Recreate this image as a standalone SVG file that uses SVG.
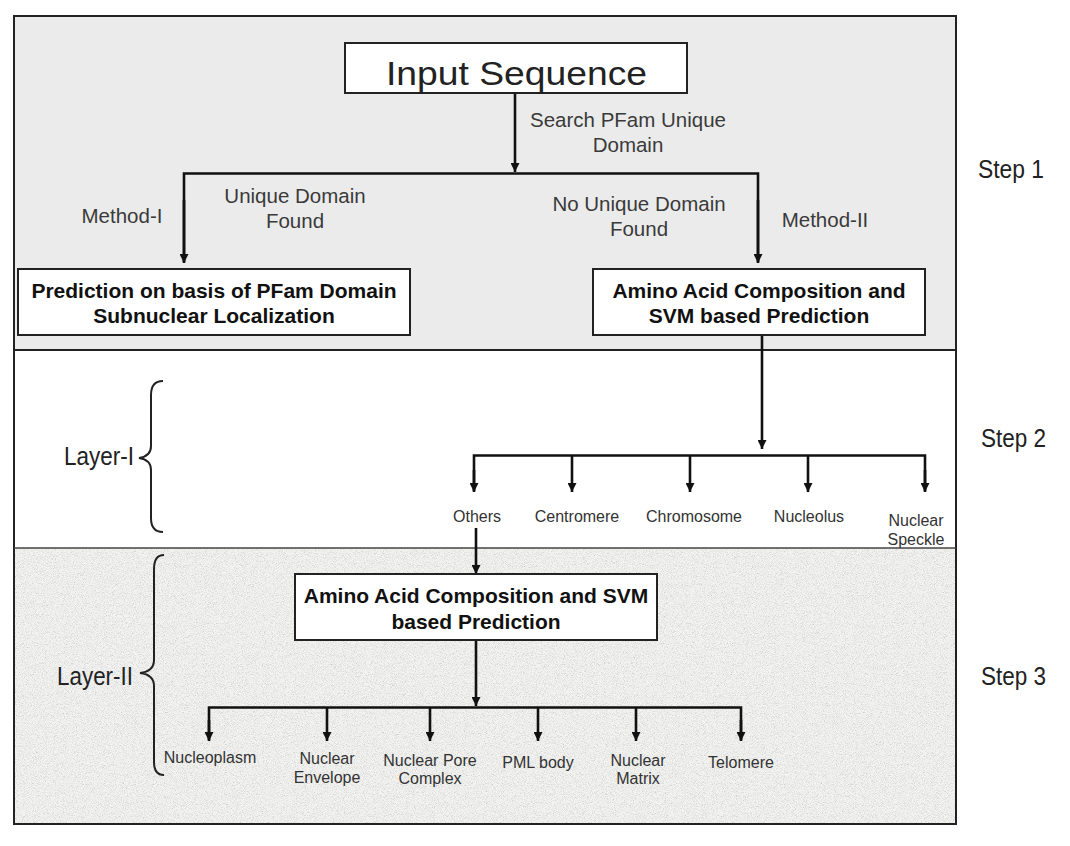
<svg xmlns="http://www.w3.org/2000/svg" width="1070" height="846" viewBox="0 0 1070 846">
<style>
.lbl{font-family:"Liberation Sans",Arial,sans-serif;font-size:20.5px;fill:#3a3a3a;text-anchor:middle}
.bold{font-family:"Liberation Sans",Arial,sans-serif;font-size:21px;font-weight:bold;fill:#111;text-anchor:middle}
.small{font-family:"Liberation Sans",Arial,sans-serif;font-size:16px;fill:#333;text-anchor:middle}
.step{font-family:"Liberation Sans",Arial,sans-serif;font-size:25px;fill:#222}
.box{fill:#fff;stroke:#222;stroke-width:2}
.con{fill:none;stroke:#111;stroke-width:2.6}
.brace{fill:none;stroke:#222;stroke-width:2}
</style>
<defs>
<marker id="ah" viewBox="0 0 10 10" refX="10" refY="5" markerWidth="9" markerHeight="9" markerUnits="userSpaceOnUse" orient="auto">
<path d="M0,0 L10,5 L0,10 z" fill="#111"/>
</marker>
<filter id="noise" x="0" y="0" width="100%" height="100%">
<feTurbulence type="fractalNoise" baseFrequency="1.1" numOctaves="3" seed="7" result="t"/>
<feColorMatrix in="t" type="matrix" values="1.6 0 0 0 0.05  1.6 0 0 0 0.05  1.6 0 0 0 0.05  0 0 0 0 0.35"/>
</filter>
</defs>

<g id="background">
<rect x="14" y="16" width="942" height="334" fill="#ebebeb"/>
<rect x="14" y="350" width="942" height="198" fill="#ffffff"/>
<rect x="14" y="548" width="942" height="276" fill="#ededeb"/>
<rect x="14" y="548" width="942" height="276" fill="#fff" filter="url(#noise)"/>
<rect x="14" y="16" width="942" height="808" fill="none" stroke="#222" stroke-width="2"/>
<line x1="14" y1="350" x2="956" y2="350" stroke="#222" stroke-width="2"/>
<line x1="14" y1="548" x2="956" y2="548" stroke="#444" stroke-width="1.5"/>
</g>

<g id="connectors">
<line class="con" x1="515" y1="93" x2="515" y2="172" marker-end="url(#ah)"/>
<polyline class="con" points="184,262 184,173.5 758,173.5 758,262"/>
<line class="con" x1="184" y1="200" x2="184" y2="263" marker-end="url(#ah)"/>
<line class="con" x1="758" y1="200" x2="758" y2="263" marker-end="url(#ah)"/>
<line class="con" x1="762" y1="335" x2="762" y2="449" marker-end="url(#ah)"/>
<polyline class="con" points="474,491 474,455.5 925,455.5 925,491"/>
<line class="con" x1="474" y1="470" x2="474" y2="492" marker-end="url(#ah)"/>
<line class="con" x1="572" y1="455.5" x2="572" y2="492" marker-end="url(#ah)"/>
<line class="con" x1="690" y1="455.5" x2="690" y2="492" marker-end="url(#ah)"/>
<line class="con" x1="808" y1="455.5" x2="808" y2="492" marker-end="url(#ah)"/>
<line class="con" x1="925" y1="470" x2="925" y2="492" marker-end="url(#ah)"/>
<line class="con" x1="476" y1="528" x2="476" y2="574" marker-end="url(#ah)"/>
<line class="con" x1="476" y1="640" x2="476" y2="706" marker-end="url(#ah)"/>
<polyline class="con" points="209,740 209,707.5 741,707.5 741,740"/>
<line class="con" x1="209" y1="720" x2="209" y2="741" marker-end="url(#ah)"/>
<line class="con" x1="327" y1="707.5" x2="327" y2="741" marker-end="url(#ah)"/>
<line class="con" x1="430" y1="707.5" x2="430" y2="741" marker-end="url(#ah)"/>
<line class="con" x1="538" y1="707.5" x2="538" y2="741" marker-end="url(#ah)"/>
<line class="con" x1="636" y1="707.5" x2="636" y2="741" marker-end="url(#ah)"/>
<line class="con" x1="741" y1="720" x2="741" y2="741" marker-end="url(#ah)"/>
</g>

<g id="input-sequence">
<rect class="box" x="345" y="43" width="342" height="50"/>
<text x="386" y="85" font-family="'Liberation Sans',Arial,sans-serif" font-size="33" fill="#222" textLength="261" lengthAdjust="spacingAndGlyphs">Input Sequence</text>
</g>

<g id="edge-labels">
<text class="lbl" x="628" y="127">Search PFam Unique</text>
<text class="lbl" x="628" y="152">Domain</text>
<text class="lbl" x="122" y="223">Method-I</text>
<text class="lbl" x="295" y="203">Unique Domain</text>
<text class="lbl" x="295" y="228">Found</text>
<text class="lbl" x="639" y="211">No Unique Domain</text>
<text class="lbl" x="639" y="236">Found</text>
<text class="lbl" x="825" y="227">Method-II</text>
</g>

<g id="pfam-prediction">
<rect class="box" x="18" y="269" width="392" height="66"/>
<text class="bold" x="214" y="298">Prediction on basis of PFam Domain</text>
<text class="bold" x="214" y="323">Subnuclear Localization</text>
</g>

<g id="svm-prediction-1">
<rect class="box" x="593" y="269" width="332" height="66"/>
<text class="bold" x="759" y="298">Amino Acid Composition and</text>
<text class="bold" x="759" y="323">SVM based Prediction</text>
</g>

<g id="layer1-classes">
<text class="small" x="477" y="522">Others</text>
<text class="small" x="577" y="522">Centromere</text>
<text class="small" x="694" y="522">Chromosome</text>
<text class="small" x="809" y="522">Nucleolus</text>
<text class="small" x="916" y="526">Nuclear</text>
<text class="small" x="916" y="545">Speckle</text>
</g>

<g id="svm-prediction-2">
<rect class="box" x="295" y="574" width="362" height="66"/>
<text class="bold" x="476" y="603">Amino Acid Composition and SVM</text>
<text class="bold" x="476" y="629">based Prediction</text>
</g>

<g id="layer2-classes">
<text class="small" x="210" y="763">Nucleoplasm</text>
<text class="small" x="327" y="764">Nuclear</text>
<text class="small" x="327" y="783">Envelope</text>
<text class="small" x="430" y="766">Nuclear Pore</text>
<text class="small" x="430" y="784">Complex</text>
<text class="small" x="538" y="768">PML body</text>
<text class="small" x="638" y="766">Nuclear</text>
<text class="small" x="638" y="784">Matrix</text>
<text class="small" x="741" y="768">Telomere</text>
</g>

<g id="layers">
<path class="brace" d="M163,381 C155,381 151,386 151,395 L151,446 C151,453 146,457 139,458 C146,459 151,463 151,470 L151,518 C151,527 155,532 163,532"/>
<text class="step" x="64" y="465" textLength="70" lengthAdjust="spacingAndGlyphs">Layer-I</text>
<path class="brace" d="M164,555 C157,555 154,560 154,569 L154,660 C154,668 148,672 140,673 C148,674 154,678 154,686 L154,762 C154,771 157,775 164,775"/>
<text class="step" x="57" y="685" textLength="76" lengthAdjust="spacingAndGlyphs">Layer-II</text>
</g>

<g id="steps">
<text class="step" x="978" y="178" textLength="66" lengthAdjust="spacingAndGlyphs">Step 1</text>
<text class="step" x="981" y="447" textLength="65" lengthAdjust="spacingAndGlyphs">Step 2</text>
<text class="step" x="981" y="685" textLength="65" lengthAdjust="spacingAndGlyphs">Step 3</text>
</g>
</svg>
